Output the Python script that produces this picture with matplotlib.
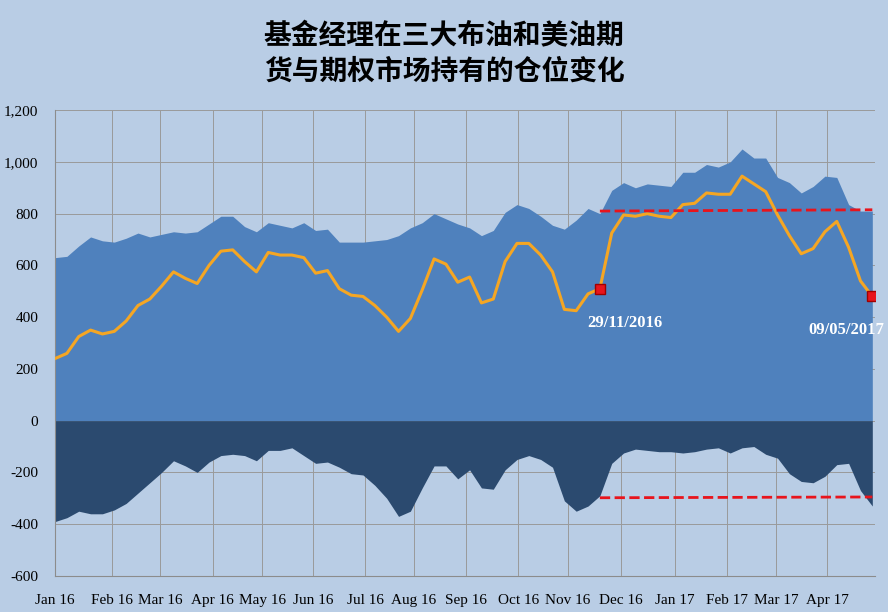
import matplotlib
matplotlib.use("Agg")
import matplotlib.pyplot as plt
import numpy as np

long_pos = [630,635,675,710,695,690,705,725,710,720,
            730,725,730,760,790,790,750,730,765,755,
            745,765,735,740,690,690,690,695,700,715,
            745,765,800,780,760,745,715,735,805,835,
            820,790,755,740,775,820,800,890,920,900,
            915,910,905,960,960,990,980,1000,1050,1015,
            1015,940,920,880,905,945,940,835,810,810]
short_pos = [-390,-375,-350,-360,-360,-345,-320,-280,-240,-200,
             -155,-175,-200,-160,-135,-130,-135,-155,-115,-115,
             -105,-135,-165,-160,-180,-205,-210,-250,-300,-370,
             -350,-260,-175,-175,-225,-190,-260,-265,-190,-150,
             -135,-150,-180,-310,-350,-330,-290,-165,-125,-110,
             -115,-120,-120,-125,-120,-110,-105,-125,-105,-100,
             -130,-145,-205,-235,-240,-215,-170,-165,-270,-330]
net = [l + s for l, s in zip(long_pos, short_pos)]
month_labels = ["Jan 16","Feb 16","Mar 16","Apr 16","May 16","Jun 16","Jul 16","Aug 16",
                "Sep 16","Oct 16","Nov 16","Dec 16","Jan 17","Feb 17","Mar 17","Apr 17"]
month_pos = [0,4.8,8.9,13.3,17.5,21.8,26.2,30.3,34.7,39.1,43.3,47.8,52.3,56.7,60.9,65.2]
mark_idx = [46, 69]
mark_labels = ["29/11/2016", "09/05/2017"]
long_ref = [810, 815]
short_ref = [-298, -295]

bg = "#b9cde5"
fig = plt.figure(figsize=(8.88, 6.12), dpi=100, facecolor=bg)
ax = fig.add_axes([0.062, 0.059, 0.923, 0.761], facecolor=bg)
x = np.arange(len(long_pos))
ax.fill_between(x, 0, long_pos, color="#4f81bd", lw=0, zorder=2)
ax.fill_between(x, 0, short_pos, color="#2b4a6f", lw=0, zorder=2)
ax.plot(x, net, color="#f5a623", lw=2.2, zorder=4)
for i, lab, dx, ha in zip(mark_idx, mark_labels, [2.1, 1.0], ["center", "right"]):
    ax.plot(x[i], net[i], marker="s", color="#e8141c", ms=7, mec="#a00000", zorder=5)
    ax.text(x[i] + dx, net[i] - 100, lab, color="white", family="Liberation Serif",
            fontsize=12, fontweight="bold", ha=ha, va="top", zorder=6)
ax.plot([x[mark_idx[0]], x[mark_idx[1]]], long_ref, ls="--", color="#e8141c", lw=2, zorder=4)
ax.plot([x[mark_idx[0]], x[mark_idx[1]]], short_ref, ls="--", color="#e8141c", lw=2, zorder=4)

ax.set_xlim(0, 69.2)
ax.set_ylim(-600, 1200)
ax.set_yticks(range(-600, 1201, 200))
ax.set_yticklabels([f"{v:,}" for v in range(-600, 1201, 200)], family="Liberation Serif", fontsize=11)
ax.set_xticks(month_pos)
ax.set_xticklabels(month_labels, family="Liberation Serif", fontsize=11)
ax.tick_params(axis="y", length=0, pad=12)
ax.tick_params(axis="x", length=0, pad=13)
ax.grid(True, color="#9a9a9a", lw=0.7, zorder=1)
ax.set_axisbelow(True)
for s in ["top", "right"]:
    ax.spines[s].set_visible(False)
ax.spines["left"].set_color("#8c8c8c")
ax.spines["bottom"].set_color("#8c8c8c")
fig.text(0.5, 0.912, "基金经理在三大布油和美油期\n货与期权市场持有的仓位变化", ha="center", va="center",
         family=["Noto Sans CJK SC", "DejaVu Sans"], fontsize=20, fontweight="bold", linespacing=1.35)
fig.savefig("out.png", dpi=100, facecolor=bg)
